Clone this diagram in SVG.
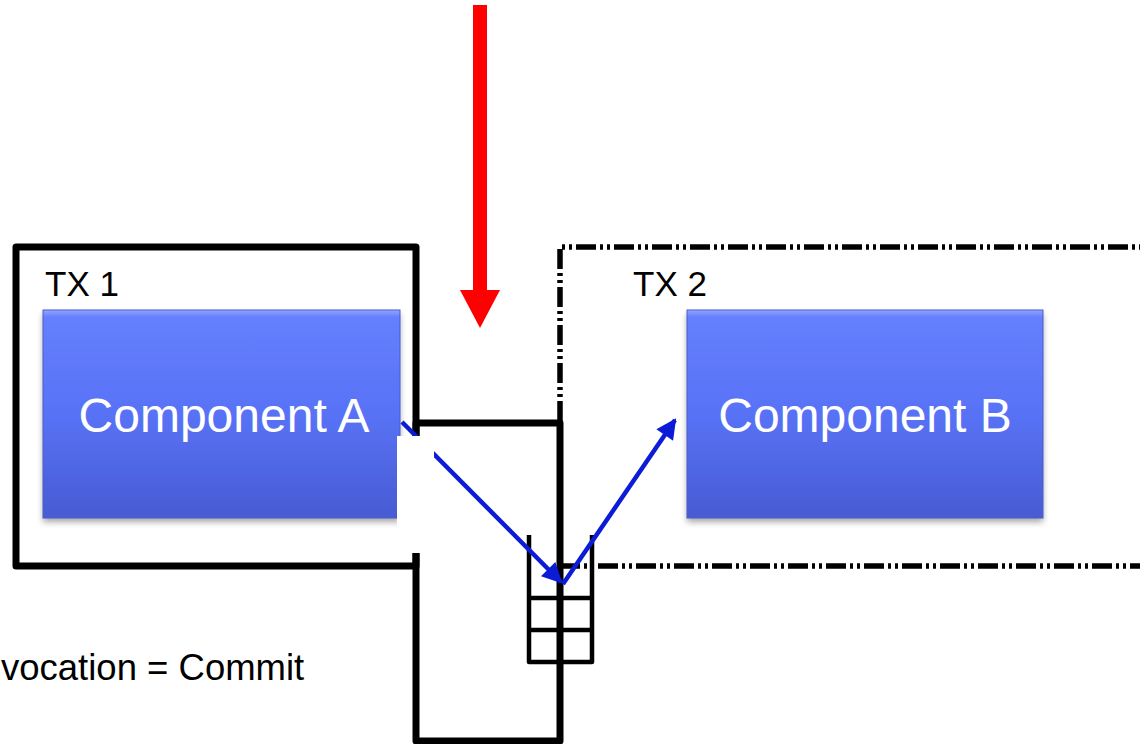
<svg xmlns="http://www.w3.org/2000/svg" width="1140" height="744" viewBox="0 0 1140 744">
<style>
.frame{fill:none;stroke:#000;stroke-width:7;stroke-linejoin:round}
.dashed{fill:none;stroke:#000;stroke-width:5.5;stroke-dasharray:20 4 3 4 3 4}
.queue{fill:none;stroke:#000;stroke-width:4.5;stroke-linejoin:round}
.lbl{font-family:"Liberation Sans",Arial,sans-serif;fill:#000}
.comp{font-family:"Liberation Sans",Arial,sans-serif;font-size:48px;fill:#fff;text-anchor:middle}
.blue{stroke:#0c1cd6;stroke-width:4.5;fill:none}
</style>
<defs>
<linearGradient id="g" x1="0" y1="0" x2="0" y2="1">
<stop offset="0" stop-color="#6680ff"/>
<stop offset="0.5" stop-color="#5872f6"/>
<stop offset="1" stop-color="#485bd2"/>
</linearGradient>
<linearGradient id="top" x1="0" y1="0" x2="0" y2="1">
<stop offset="0" stop-color="#93a6ff"/>
<stop offset="1" stop-color="#6680ff"/>
</linearGradient>
<filter id="sh" x="-10%" y="-10%" width="120%" height="130%">
<feDropShadow dx="0" dy="4" stdDeviation="3" flood-color="#000" flood-opacity="0.35"/>
</filter>
<marker id="ah" viewBox="0 0 10 10" refX="9" refY="5" markerWidth="5.5" markerHeight="4.5" markerUnits="strokeWidth" orient="auto">
<path d="M0,0 L10,5 L0,10 Z" fill="#0c1cd6"/>
</marker>
</defs>

<g id="tx2">
<path class="dashed" d="M560,421 L560,247 L1145,247"/>
<path class="dashed" d="M560,566 L1145,566"/>
<text class="lbl" x="633" y="296" font-size="35">TX 2</text>
</g>

<g id="tx1">
<rect class="frame" x="16" y="247" width="400" height="319"/>
<text class="lbl" x="45" y="296" font-size="35">TX 1</text>
</g>

<g id="channel">
<rect class="frame" x="416" y="423" width="144" height="318"/>
</g>

<g id="queue">
<path class="queue" d="M529,535 L529,662 L592,662 L592,535"/>
<path class="queue" d="M529,598 L592,598 M529,630 L592,630"/>
</g>

<g id="componentA">
<rect x="43" y="310" width="357" height="208" fill="url(#g)" filter="url(#sh)"/>
<rect x="43" y="310" width="357" height="7" fill="url(#top)"/>
<rect x="43" y="310" width="357" height="208" fill="none" stroke="#4a5ccc" stroke-width="1"/>
<text class="comp" x="224" y="432">Component A</text>
</g>

<g id="componentB">
<rect x="687" y="310" width="356" height="208" fill="url(#g)" filter="url(#sh)"/>
<rect x="687" y="310" width="356" height="7" fill="url(#top)"/>
<rect x="687" y="310" width="356" height="208" fill="none" stroke="#4a5ccc" stroke-width="1"/>
<text class="comp" x="865" y="432">Component B</text>
</g>

<g id="connectors">
<line class="blue" x1="402" y1="422" x2="561" y2="582" marker-end="url(#ah)"/>
<line class="blue" x1="563" y1="584" x2="675" y2="420" marker-end="url(#ah)"/>
<rect x="397" y="436" width="37" height="117" fill="#fff"/>
<rect x="473" y="5" width="14" height="287" fill="#ff0000"/>
<polygon points="460,290 500,290 480,328" fill="#ff0000"/>
</g>

<g id="note">
<text class="lbl" x="1" y="680" font-size="36.5">vocation = Commit</text>
</g>
</svg>
